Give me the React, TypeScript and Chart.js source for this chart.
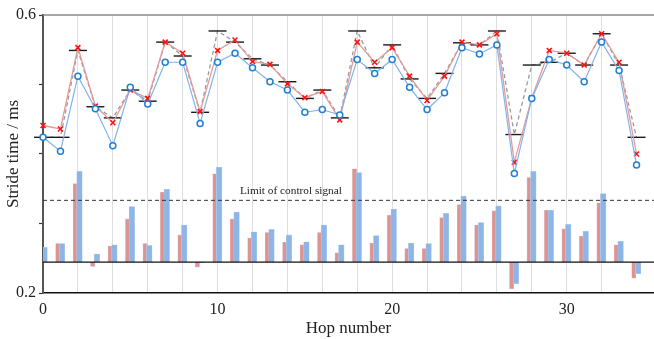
import React, { useEffect, useRef } from 'react';
import { Chart, registerables } from 'chart.js';

Chart.register(...registerables);

// ---- data ----
const hops = [0, 1, 2, 3, 4, 5, 6, 7, 8, 9, 10, 11, 12, 13, 14, 15, 16, 17, 18, 19, 20, 21, 22, 23, 24, 25, 26, 27, 28, 29, 30, 31, 32, 33, 34];

// red crosses (measured stride time)
const measured = [0.441, 0.436, 0.553, 0.469, 0.445, 0.492, 0.480, 0.561, 0.545, 0.461, 0.549, 0.564, 0.533, 0.529, 0.501, 0.481, 0.490, 0.449, 0.561, 0.532, 0.553, 0.512, 0.477, 0.512, 0.561, 0.557, 0.573, 0.388, 0.481, 0.549, 0.545, 0.528, 0.573, 0.532, 0.400];

// blue circles
const predicted = [0.424, 0.404, 0.512, 0.465, 0.412, 0.496, 0.472, 0.532, 0.532, 0.444, 0.532, 0.545, 0.524, 0.504, 0.492, 0.460, 0.464, 0.456, 0.536, 0.516, 0.536, 0.496, 0.464, 0.488, 0.553, 0.544, 0.557, 0.372, 0.480, 0.536, 0.528, 0.504, 0.561, 0.520, 0.384];

// black horizontal marks (target) joined by grey dashes
const target = [0.424, 0.424, 0.549, 0.468, 0.452, 0.492, 0.476, 0.561, 0.541, 0.460, 0.577, 0.561, 0.537, 0.528, 0.504, 0.480, 0.492, 0.452, 0.577, 0.524, 0.557, 0.508, 0.480, 0.516, 0.560, 0.557, 0.577, 0.428, 0.528, 0.532, 0.545, 0.528, 0.573, 0.528, 0.424];

// control signal bars (limit = 1)
const signalRed = [0.22, 0.30, 1.27, -0.07, 0.26, 0.70, 0.30, 1.13, 0.44, -0.08, 1.43, 0.70, 0.39, 0.48, 0.32, 0.28, 0.48, 0.15, 1.51, 0.31, 0.76, 0.22, 0.22, 0.72, 0.93, 0.60, 0.83, -0.43, 1.37, 0.84, 0.54, 0.42, 0.96, 0.28, -0.26];
const signalBlue = [0.24, 0.30, 1.47, 0.13, 0.28, 0.90, 0.27, 1.18, 0.60, -0.01, 1.54, 0.81, 0.49, 0.53, 0.44, 0.33, 0.60, 0.28, 1.45, 0.43, 0.86, 0.31, 0.30, 0.79, 1.07, 0.64, 0.91, -0.35, 1.47, 0.84, 0.61, 0.50, 1.11, 0.34, -0.19];

const xTickLabels = ['0', '10', '20', '30'];
const yTickLabels = ['0.6', '0.2'];
const signalLimit = 1;
const limitLabel = 'Limit of control signal';

const FONT = '"Liberation Serif", "Times New Roman", Times, serif';

export default function App() {
  const ref = useRef<HTMLCanvasElement>(null);

  useEffect(() => {
    document.body.style.margin = '0';
    const canvas = ref.current;
    if (!canvas) return;

    const overlay = {
      id: 'overlay',
      afterDatasetsDraw(chart: any) {
        const { ctx, chartArea: a, scales } = chart;
        const xs = scales.x;
        const yb = scales.yb;
        ctx.save();
        // top frame line
        ctx.strokeStyle = '#8a8a8a';
        ctx.lineWidth = 1.5;
        ctx.beginPath();
        ctx.moveTo(a.left, a.top);
        ctx.lineTo(a.right, a.top);
        ctx.stroke();
        // zero line of control signal
        const y0 = yb.getPixelForValue(0);
        ctx.strokeStyle = '#111';
        ctx.lineWidth = 1.3;
        ctx.beginPath();
        ctx.moveTo(a.left, y0);
        ctx.lineTo(a.right, y0);
        ctx.stroke();
        // limit dashed line
        const yl = yb.getPixelForValue(signalLimit);
        ctx.strokeStyle = '#333';
        ctx.lineWidth = 1;
        ctx.setLineDash([4, 3]);
        ctx.beginPath();
        ctx.moveTo(a.left, yl);
        ctx.lineTo(a.right, yl);
        ctx.stroke();
        ctx.setLineDash([]);
        ctx.fillStyle = '#222';
        ctx.font = '11.3px ' + FONT;
        ctx.textAlign = 'center';
        ctx.textBaseline = 'middle';
        ctx.fillText(limitLabel, xs.getPixelForValue(14.2), yl - 9);
        ctx.restore();
      },
    };

    const chart = new Chart(canvas, {
      type: 'line',
      data: {
        datasets: [
          {
            type: 'line',
            label: 'predicted',
            data: hops.map((h, i) => ({ x: h, y: predicted[i] })),
            yAxisID: 'y',
            borderColor: '#82b2ea',
            borderWidth: 1.2,
            pointStyle: 'circle',
            pointRadius: 3,
            pointBorderWidth: 1.5,
            pointBorderColor: '#1f7fd6',
            pointBackgroundColor: '#ffffff',
            clip: false,
            order: 0,
          },
          {
            type: 'line',
            label: 'measured',
            data: hops.map((h, i) => ({ x: h, y: measured[i] })),
            yAxisID: 'y',
            borderColor: '#e39a9a',
            borderWidth: 1.3,
            pointStyle: 'crossRot',
            pointRadius: 3.5,
            pointBorderWidth: 1.6,
            pointBorderColor: '#ff1010',
            clip: false,
            order: 1,
          },
          {
            type: 'line',
            label: 'target',
            data: hops.map((h, i) => ({ x: h, y: target[i] })),
            yAxisID: 'y',
            borderColor: '#9a9a9a',
            borderWidth: 1.3,
            borderDash: [4, 3],
            pointStyle: 'line',
            pointRadius: 9,
            pointBorderWidth: 1.4,
            pointBorderColor: '#1a1a1a',
            clip: false,
            order: 2,
          },
          {
            type: 'bar',
            label: 'signal blue',
            data: hops.map((h, i) => ({ x: h + 0.09, y: signalBlue[i] })),
            yAxisID: 'yb',
            backgroundColor: '#8db5e6',
            borderColor: '#b9d3f2',
            borderWidth: 0.6,
            barThickness: 5.6,
            grouped: false,
            order: 3,
          },
          {
            type: 'bar',
            label: 'signal red',
            data: hops.map((h, i) => ({ x: h - 0.155, y: signalRed[i] })),
            yAxisID: 'yb',
            backgroundColor: '#db9494',
            borderColor: '#e8b5b5',
            borderWidth: 0.6,
            barThickness: 4.2,
            grouped: false,
            order: 4,
          },
        ] as any,
      },
      plugins: [overlay],
      options: {
        responsive: false,
        animation: false,
        devicePixelRatio: 1,
        layout: { autoPadding: false, padding: { top: 15, left: 0, right: 0, bottom: 0 } },
        plugins: {
          legend: { display: false },
          tooltip: { enabled: false },
        },
        font: { family: FONT },
        scales: {
          x: {
            type: 'linear',
            offset: false,
            min: 0,
            max: 35,
            afterFit(s: any) {
              s.height = 46;
              s.paddingLeft = 0;
              s.paddingRight = 0;
            },
            ticks: {
              stepSize: 2,
              autoSkip: false,
              maxRotation: 0,
              padding: 7,
              color: '#222',
              font: { size: 16, family: FONT },
              callback: (v: any) => (xTickLabels.includes(String(v)) ? String(v) : ''),
            },
            grid: {
              offset: false,
              color: (c: any) =>
                c.tick && c.tick.value > 0 && c.tick.value < 35 ? '#dedede' : 'rgba(0,0,0,0)',
              lineWidth: 1,
              drawTicks: false,
            },
            border: { display: true, color: '#111', width: 1.5 },
            title: {
              display: true,
              text: 'Hop number',
              color: '#222',
              font: { size: 17, family: FONT },
              padding: { top: 0, bottom: 0 },
            },
          },
          y: {
            type: 'linear',
            position: 'left',
            min: 0.2,
            max: 0.6,
            afterFit(s: any) {
              s.width = 43;
            },
            ticks: {
              stepSize: 0.1,
              padding: 3,
              color: '#222',
              font: { size: 16, family: FONT },
              callback: (v: any) => {
                const t = (Math.round(Number(v) * 10) / 10).toFixed(1);
                return yTickLabels.includes(t) ? t : '';
              },
            },
            grid: {
              drawOnChartArea: false,
              drawTicks: true,
              tickLength: 4,
              tickColor: '#333',
              tickWidth: 1.2,
            },
            border: { display: true, color: '#555', width: 2 },
            title: {
              display: true,
              text: 'Stride time / ms',
              color: '#222',
              font: { size: 17, family: FONT },
              padding: { top: 3, bottom: 0 },
            },
          },
          yb: {
            type: 'linear',
            display: false,
            min: -0.5,
            max: 4.0,
          },
        },
      } as any,
    });

    return () => chart.destroy();
  }, []);

  return (
    <canvas
      ref={ref}
      width={654}
      height={339}
      style={{ display: 'block', width: '654px', height: '339px' }}
    />
  );
}
